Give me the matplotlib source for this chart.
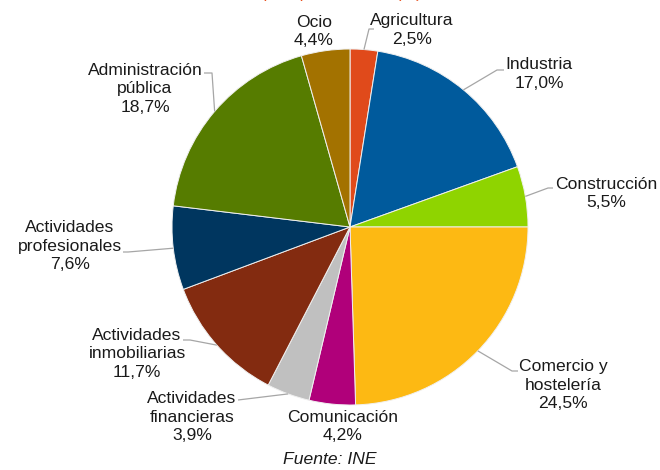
import matplotlib
matplotlib.use("Agg")
import matplotlib.pyplot as plt
import numpy as np

plt.rcParams['font.family'] = ['Liberation Sans', 'DejaVu Sans']

sectors = ["Agricultura", "Industria", "Construcción", "Comercio y\nhostelería",
           "Comunicación", "Actividades\nfinancieras", "Actividades\ninmobiliarias",
           "Actividades\nprofesionales", "Administración\npública", "Ocio"]
shares = [2.5, 17.0, 5.5, 24.5, 4.2, 3.9, 11.7, 7.6, 18.7, 4.4]
colors = ["#E04A1B", "#005A9C", "#8FD400", "#FDB913", "#B0007A",
          "#C0C0C0", "#832B10", "#00365F", "#567C00", "#A37200"]

title = "Empleo por sectores (%)"
source = "Fuente: INE"

# layout (pixel coordinates, y down)
label_pos = [(412, 30), (539, 74), (606, 193.5), (563, 385), (343, 426.5),
             (192, 417), (137, 354), (70, 246), (145, 89), (314, 31.5)]
leader_pts = [[(369, 29), (374, 29)], [(497, 70), (504, 70)], [(548, 188), (553, 188)],
              [(512, 371), (518, 371)], None, [(238, 400)],
              [(190, 340), (183, 340)], [(128, 252), (123, 252)],
              [(212, 73), (204, 73)], None]

W, H = 660, 470
fig = plt.figure(figsize=(W / 100, H / 100), dpi=100)
ax = fig.add_axes([0, 0, 1, 1])
cx, cy, R = 350, 227, 178
wedges, _ = ax.pie(shares, colors=colors, startangle=-90, counterclock=True,
                   center=(cx, cy), radius=R,
                   wedgeprops=dict(edgecolor="#f0f0f0", linewidth=0.7))
ax.set_xlim(0, W)
ax.set_ylim(H, 0)
ax.set_aspect('equal')
ax.axis('off')

for w, name, val, pos, pts in zip(wedges, sectors, shares, label_pos, leader_pts):
    txt = f"{name}\n{val:.1f}%".replace('.', ',')
    ax.text(pos[0], pos[1], txt, ha='center', va='center', fontsize=12.6,
            color='#1a1a1a', linespacing=1.3)
    if pts:
        th = np.deg2rad((w.theta1 + w.theta2) / 2)
        start = (cx + R * np.cos(th), cy + R * np.sin(th))
        xs = [start[0]] + [p[0] for p in pts]
        ys = [start[1]] + [p[1] for p in pts]
        ax.plot(xs, ys, color='#a6a6a6', lw=0.9, solid_capstyle='butt')

ax.text(332, -2, title, ha='center', va='baseline', fontsize=12,
        color='#E8501E', style='italic')
ax.text(330, 459, source, ha='center', va='center', fontsize=12.6,
        color='#1a1a1a', style='italic')

fig.savefig("out.png", dpi=100)
